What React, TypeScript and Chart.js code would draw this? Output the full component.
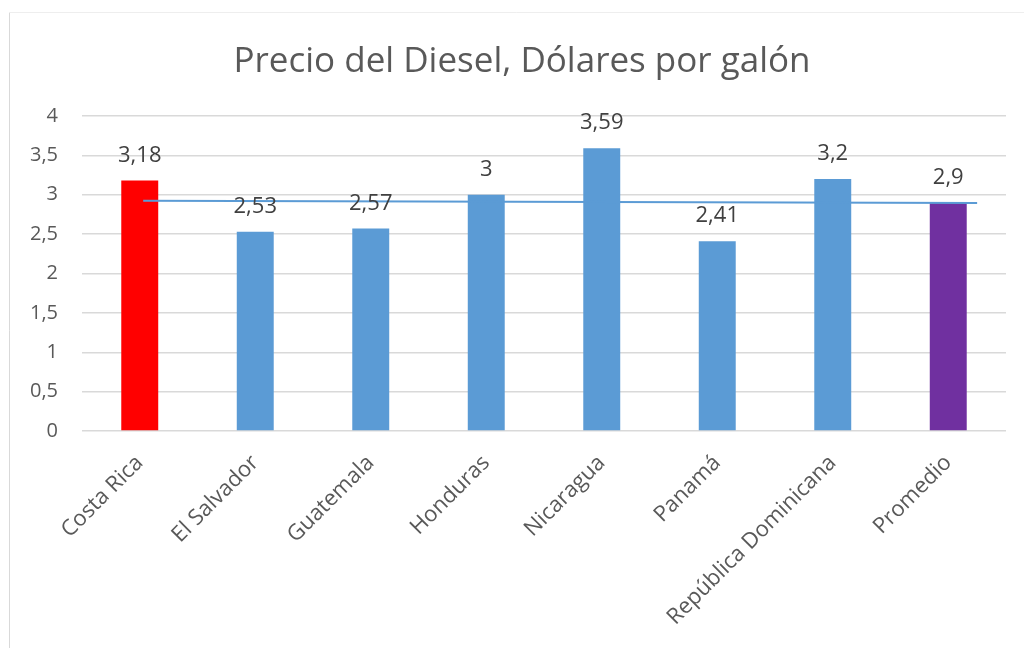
import React, { useEffect, useRef } from "react";
import { Chart, registerables } from "chart.js";

Chart.register(...registerables);

const categories = [
  "Costa Rica",
  "El Salvador",
  "Guatemala",
  "Honduras",
  "Nicaragua",
  "Panamá",
  "República Dominicana",
  "Promedio",
];
const prices = [3.18, 2.53, 2.57, 3.0, 3.59, 2.41, 3.2, 2.9];
const barColors = ["#FF0000", "#5B9BD5", "#5B9BD5", "#5B9BD5", "#5B9BD5", "#5B9BD5", "#5B9BD5", "#7030A0"];
// trend line (category-index position, value)
const trendX = [0.03, 7.25];
const trendY = [2.925, 2.895];
const yTicks = [0, 0.5, 1, 1.5, 2, 2.5, 3, 3.5, 4];
const titleText = "Precio del Diesel, Dólares por galón";

const FONT = "'Open Sans', sans-serif";
const fmt = (v: number) => String(v).replace(".", ",");

export default function App() {
  const ref = useRef<HTMLCanvasElement | null>(null);

  useEffect(() => {
    if (!ref.current) return;
    const framePlugin = {
      id: "frame",
      beforeDraw(chart: any) {
        const ctx = chart.ctx;
        ctx.save();
        ctx.fillStyle = "#ffffff";
        ctx.fillRect(0, 0, chart.width, chart.height);
        ctx.strokeStyle = "#d9d9d9";
        ctx.lineWidth = 1;
        ctx.beginPath();
        ctx.moveTo(9.5, chart.height);
        ctx.lineTo(9.5, 12.5);
        ctx.stroke();
        ctx.strokeStyle = "#eeeeee";
        ctx.beginPath();
        ctx.moveTo(9.5, 12.5);
        ctx.lineTo(chart.width, 12.5);
        ctx.stroke();
        ctx.restore();
      },
      afterDraw(chart: any) {
        const ctx = chart.ctx;
        ctx.save();
        ctx.font = `35px ${FONT}`;
        ctx.fillStyle = "#595959";
        ctx.textAlign = "center";
        ctx.textBaseline = "alphabetic";
        ctx.fillText(titleText, 522, 72);
        ctx.restore();
      },
    };
    const labelPlugin = {
      id: "valueLabels",
      afterDatasetsDraw(chart: any) {
        const ctx = chart.ctx;
        const meta = chart.getDatasetMeta(0);
        ctx.save();
        ctx.font = `22px ${FONT}`;
        ctx.fillStyle = "#404040";
        ctx.textAlign = "center";
        ctx.textBaseline = "alphabetic";
        meta.data.forEach((bar: any, i: number) => {
          ctx.fillText(fmt(prices[i]), bar.x, bar.y - 19);
        });
        ctx.restore();
      },
    };

    const chart = new Chart(ref.current, {
      type: "bar",
      data: {
        labels: categories,
        datasets: [
          {
            type: "bar",
            data: prices,
            backgroundColor: barColors,
            barPercentage: 0.32,
            categoryPercentage: 1,
            grouped: false,
            order: 1,
          } as any,
          {
            type: "line",
            data: trendX.map((x, i) => ({ x, y: trendY[i] })),
            xAxisID: "x2",
            borderColor: "#5B9BD5",
            borderWidth: 2,
            pointRadius: 0,
            fill: false,
            order: 0,
          } as any,
        ],
      },
      options: {
        responsive: false,
        animation: false,
        layout: { padding: { top: 116, right: 18, left: 0, bottom: 0 } },
        plugins: {
          legend: { display: false },
          tooltip: { enabled: false },
          title: { display: false },
        },
        scales: {
          x: {
            type: "category",
            offset: true,
            grid: { display: false, drawTicks: false },
            border: { display: false },
            ticks: {
              color: "#595959",
              font: { family: FONT, size: 22 },
              maxRotation: 45,
              minRotation: 45,
              padding: 19,
              autoSkip: false,
            },
            afterFit: (s: any) => {
              s.height = 648 - 431;
            },
          },
          x2: {
            type: "linear",
            display: false,
            offset: false,
            min: -0.5,
            max: 7.5,
          },
          y: {
            min: 0,
            max: 4,
            afterBuildTicks: (s: any) => {
              s.ticks = yTicks.map((v) => ({ value: v }));
            },
            grid: { color: "#d9d9d9", lineWidth: 1.5, drawTicks: false },
            border: { display: false },
            ticks: {
              color: "#595959",
              font: { family: FONT, size: 20 },
              padding: 24,
              callback: (v: any) => fmt(Number(v)),
            },
            afterFit: (s: any) => {
              s.width = 82;
            },
          },
        },
      },
      plugins: [framePlugin, labelPlugin],
    });
    return () => chart.destroy();
  }, []);

  return (
    <div style={{ position: "absolute", left: 0, top: 0, width: 1024, height: 648, background: "#fff" }}>
      <canvas ref={ref} width={1024} height={648} />
    </div>
  );
}
